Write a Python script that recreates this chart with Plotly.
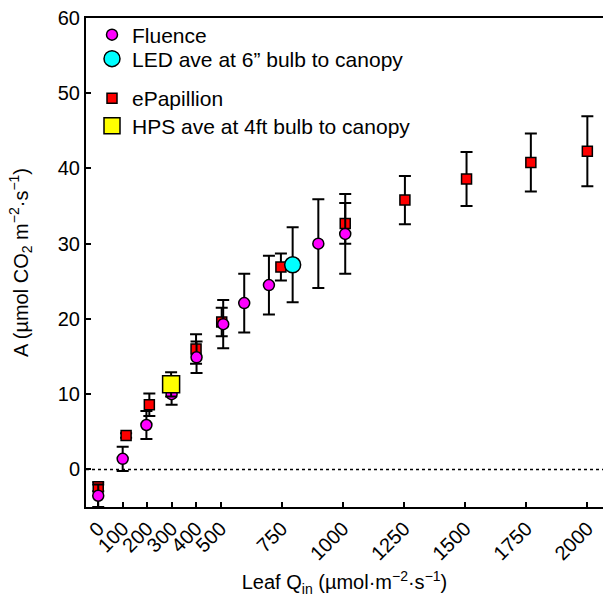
import plotly.graph_objects as go

# Fluence
flu_q = [0, 100, 197, 300, 402, 511, 597, 698, 900, 1010]
flu_a = [-3.5, 1.4, 5.9, 10.0, 14.9, 19.3, 22.1, 24.5, 30.0, 31.3]
flu_e = [1.5, 1.6, 1.85, 1.4, 2.1, 3.2, 3.9, 3.9, 5.9, 5.3]

# ePapillion
epa_q = [0, 114, 209, 400, 505, 747, 1010, 1254, 1506, 1769, 2000]
epa_a = [-2.3, 4.5, 8.6, 16.0, 19.6, 26.9, 32.7, 35.8, 38.6, 40.8, 42.3]
epa_e = [0.6, 0.3, 1.5, 1.95, 1.9, 1.8, 2.7, 3.2, 3.6, 3.85, 4.65]

# LED average
led_q = [795]
led_a = [27.2]
led_e = [5.0]

# HPS average
hps_q = [298]
hps_a = [11.3]
hps_e = [1.6]

x_ticks = [0, 100, 200, 300, 400, 500, 750, 1000, 1250, 1500, 1750, 2000]
y_ticks = [0, 10, 20, 30, 40, 50, 60]

FONT = "Liberation Sans, Arial, sans-serif"


def err(vals):
    return dict(type="data", array=vals, visible=True, color="black",
                thickness=2, width=6)


fig = go.Figure()
fig.add_trace(go.Scatter(
    x=epa_q, y=epa_a, mode="markers", name="ePapillion",
    legend="legend3", error_y=err(epa_e),
    marker=dict(symbol="square", size=10, color="#ff0000",
                line=dict(color="black", width=1.5))))
fig.add_trace(go.Scatter(
    x=flu_q, y=flu_a, mode="markers", name="Fluence",
    legend="legend", error_y=err(flu_e),
    marker=dict(symbol="circle", size=11, color="#ff00ff",
                line=dict(color="black", width=1.5))))
fig.add_trace(go.Scatter(
    x=hps_q, y=hps_a, mode="markers", name="HPS ave at 4ft bulb to canopy",
    legend="legend4", error_y=err(hps_e),
    marker=dict(symbol="square", size=17, color="#ffff00",
                line=dict(color="black", width=1.5))))
fig.add_trace(go.Scatter(
    x=led_q, y=led_a, mode="markers", name="LED ave at 6\u201d bulb to canopy",
    legend="legend2", error_y=err(led_e),
    marker=dict(symbol="circle", size=16, color="#00ffff",
                line=dict(color="black", width=1.5))))

fig.add_shape(type="line", xref="paper", yref="y", x0=0, x1=1, y0=0, y1=0,
              line=dict(color="black", width=1.5, dash="dot"), layer="below")

def leg(ypx):
    return dict(x=(92 - 86) / 517, y=(507 - ypx) / 489, xanchor="left",
                yanchor="middle", bgcolor="rgba(0,0,0,0)",
                font=dict(size=21, family=FONT))


fig.update_layout(
    width=603, height=603,
    margin=dict(l=86, r=0, t=18, b=96),
    paper_bgcolor="white", plot_bgcolor="white",
    font=dict(family=FONT, size=20, color="black"),
    showlegend=True,
    legend=leg(35), legend2=leg(59), legend3=leg(98.5), legend4=leg(126),
    xaxis=dict(range=[-50, 2064], tickvals=x_ticks,
               ticktext=[str(v) for v in x_ticks], tickangle=-45,
               ticks="inside", ticklen=5, tickwidth=2, tickcolor="black",
               showline=True, linewidth=2, linecolor="black", mirror=True,
               showgrid=False, zeroline=False,
               tickfont=dict(size=20, family=FONT),
               title=dict(text="Leaf Q<sub>in</sub> (\u00b5mol\u00b7m<sup>\u22122</sup>\u00b7s<sup>\u22121</sup>)",
                          font=dict(size=20, family=FONT), standoff=12)),
    yaxis=dict(range=[-5, 60], tickvals=y_ticks,
               ticks="inside", ticklen=5, tickwidth=2, tickcolor="black",
               showline=True, linewidth=2, linecolor="black",
               showgrid=False, zeroline=False,
               tickfont=dict(size=20, family=FONT),
               title=dict(text="A (\u00b5mol CO<sub>2</sub> m<sup>\u22122</sup>\u00b7s<sup>\u22121</sup>)",
                          font=dict(size=20, family=FONT), standoff=24)),
)

fig.write_html("out.html")
